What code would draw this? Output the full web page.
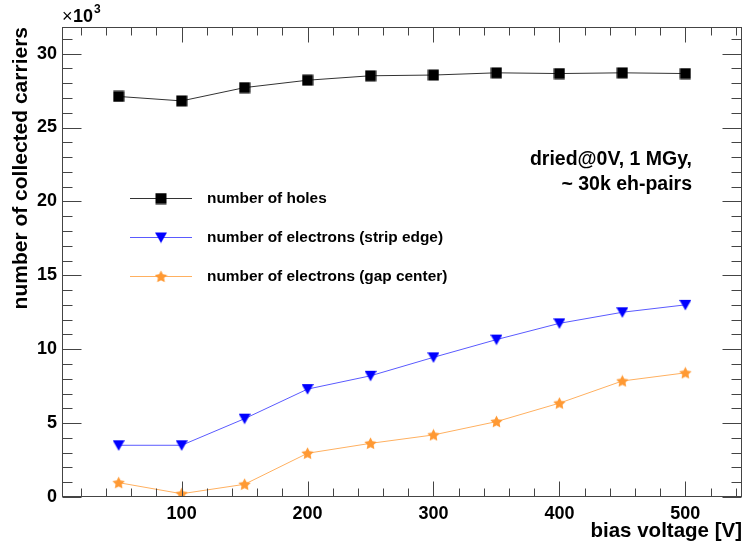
<!DOCTYPE html>
<html>
<head>
<meta charset="utf-8">
<script src="https://cdn.jsdelivr.net/npm/chart.js@4/dist/chart.umd.min.js"></script>
<style>
  body { margin: 0; background: #fff; }
</style>
</head>
<body>
<canvas id="myChart" width="742" height="548"></canvas>
<script>
// bias voltage [V] and collected carriers (in units of 10^3)
const biasVoltage = [50, 100, 150, 200, 250, 300, 350, 400, 450, 500];
const holes = [27.1, 26.8, 27.7, 28.2, 28.5, 28.55, 28.7, 28.65, 28.7, 28.65];
const electronsEdge = [3.5, 3.5, 5.3, 7.3, 8.2, 9.45, 10.65, 11.75, 12.5, 13.0];
const electronsGap = [0.97, 0.22, 0.86, 2.96, 3.63, 4.2, 5.1, 6.35, 7.85, 8.4];

const seriesLabels = [
    "number of holes",
    "number of electrons (strip edge)",
    "number of electrons (gap center)",
];

const xTicks = [100, 200, 300, 400, 500];
const yTicks = [0, 5, 10, 15, 20, 25, 30];

const FONT = "'Liberation Sans', Arial, Helvetica, sans-serif";

// small canvases used as point markers
function makeMarker(shape, color, size) {
    const c = document.createElement("canvas");
    c.width = size;
    c.height = size;
    const g = c.getContext("2d");
    g.fillStyle = color;
    const h = size / 2;
    if (shape === "square") {
        g.fillRect(0.5, 0.5, size - 1, size - 1);
    } else if (shape === "triangleDown") {
        g.beginPath();
        g.moveTo(0, 1);
        g.lineTo(size, 1);
        g.lineTo(h, size - 0.5);
        g.closePath();
        g.fill();
    } else if (shape === "star") {
        g.beginPath();
        for (let i = 0; i < 10; i++) {
            const r = i % 2 === 0 ? h : h * 0.5;
            const a = -Math.PI / 2 + (i * Math.PI) / 5;
            const px = h + r * Math.cos(a);
            const py = h + 0.5 + r * Math.sin(a);
            if (i === 0) g.moveTo(px, py);
            else g.lineTo(px, py);
        }
        g.closePath();
        g.fill();
    }
    return c;
}

const markerHoles = makeMarker("square", "#000000", 12);
const markerEdge = makeMarker("triangleDown", "#0000ff", 12);
const markerGap = makeMarker("star", "#ff9933", 13);

const toPoints = (ys) => biasVoltage.map((x, i) => ({ x: x, y: ys[i] }));

// frame, inner ticks, axis titles, legend and annotation
const frameTicks = {
    id: "frameTicks",
    afterDraw(chart) {
        const ctx = chart.ctx;
        const area = chart.chartArea;
        const xs = chart.scales.x;
        const ys = chart.scales.y;
        const L = Math.round(area.left) + 0.5;
        const R = Math.round(area.right) - 0.5;
        const T = Math.round(area.top) + 0.5;
        const B = Math.round(area.bottom) - 0.5;

        ctx.save();
        ctx.strokeStyle = "#444";
        ctx.lineWidth = 1;
        ctx.strokeRect(L, T, R - L, B - T);

        ctx.beginPath();
        // y ticks, left and right
        for (let v = 0; v <= 31; v++) {
            const y = Math.round(ys.getPixelForValue(v)) + 0.5;
            const len = v % 5 === 0 ? 19 : 10;
            ctx.moveTo(L, y);
            ctx.lineTo(L + len, y);
            ctx.moveTo(R, y);
            ctx.lineTo(R - len, y);
        }
        // x ticks, bottom and top
        for (let v = 20; v <= 540; v += 20) {
            const x = Math.round(xs.getPixelForValue(v)) + 0.5;
            const len = v % 100 === 0 ? 15 : 8;
            ctx.moveTo(x, B);
            ctx.lineTo(x, B - len);
            ctx.moveTo(x, T);
            ctx.lineTo(x, T + len);
        }
        ctx.stroke();

        ctx.fillStyle = "#000";

        // axis titles
        ctx.font = "bold 20.5px " + FONT;
        ctx.textAlign = "right";
        ctx.textBaseline = "alphabetic";
        ctx.fillText("bias voltage [V]", area.right, 537);

        ctx.save();
        ctx.translate(27, area.top);
        ctx.rotate(-Math.PI / 2);
        ctx.textAlign = "right";
        ctx.font = "bold 21px " + FONT;
        ctx.fillText("number of collected carriers", 0, 0);
        ctx.restore();

        // exponent label
        ctx.textAlign = "left";
        ctx.font = "18px " + FONT;
        ctx.fillText("\u00d7", area.left, 22);
        ctx.font = "bold 18px " + FONT;
        ctx.fillText("10", area.left + 11, 22);
        ctx.font = "bold 12px " + FONT;
        ctx.fillText("3", area.left + 32, 13);

        // annotation
        ctx.font = "bold 19.5px " + FONT;
        ctx.textAlign = "right";
        ctx.fillText("dried@0V, 1 MGy,", 692, 165);
        ctx.fillText("~ 30k eh-pairs", 692, 190);

        // legend
        const rows = [198, 237, 276];
        ctx.font = "bold 15.4px " + FONT;
        ctx.textAlign = "left";
        ctx.textBaseline = "middle";
        chart.data.datasets.forEach((ds, i) => {
            const y = rows[i] + 0.5;
            ctx.strokeStyle = ds.borderColor;
            ctx.beginPath();
            ctx.moveTo(130, y);
            ctx.lineTo(192, y);
            ctx.stroke();
            const m = ds.pointStyle;
            ctx.drawImage(m, 161 - m.width / 2, rows[i] - m.height / 2 + 0.5);
            ctx.fillStyle = "#000";
            ctx.fillText(ds.label, 207, rows[i] + 1);
        });
        ctx.restore();
    },
};

const ctx = document.getElementById("myChart").getContext("2d");
const chart = new window.Chart(ctx, {
    type: "line",
    data: {
        datasets: [
            {
                label: seriesLabels[0],
                data: toPoints(holes),
                borderColor: "#333333",
                borderWidth: 1,
                pointStyle: markerHoles,
            },
            {
                label: seriesLabels[1],
                data: toPoints(electronsEdge),
                borderColor: "#5a5aff",
                borderWidth: 1,
                pointStyle: markerEdge,
            },
            {
                label: seriesLabels[2],
                data: toPoints(electronsGap),
                borderColor: "#ffb060",
                borderWidth: 1,
                pointStyle: markerGap,
            },
        ],
    },
    options: {
        responsive: false,
        animation: false,
        layout: {
            autoPadding: false,
            padding: { top: 27, right: 0, left: 0, bottom: 0 },
        },
        plugins: {
            legend: { display: false },
            tooltip: { enabled: false },
        },
        scales: {
            x: {
                type: "linear",
                min: 5,
                max: 545,
                grid: { display: false, drawTicks: false },
                border: { display: false },
                ticks: {
                    color: "#000",
                    font: { family: FONT, size: 18, weight: "bold" },
                    padding: 6,
                    maxRotation: 0,
                },
                afterBuildTicks: (s) => {
                    s.ticks = xTicks.map((v) => ({ value: v }));
                },
                afterFit: (s) => {
                    s.height = 51;
                },
            },
            y: {
                type: "linear",
                min: 0,
                max: 31.8,
                grid: { display: false, drawTicks: false },
                border: { display: false },
                ticks: {
                    color: "#000",
                    font: { family: FONT, size: 18, weight: "bold" },
                    padding: 5,
                },
                afterBuildTicks: (s) => {
                    s.ticks = yTicks.map((v) => ({ value: v }));
                },
                afterFit: (s) => {
                    s.width = 62;
                },
            },
        },
    },
    plugins: [frameTicks],
});
</script>
</body>
</html>
